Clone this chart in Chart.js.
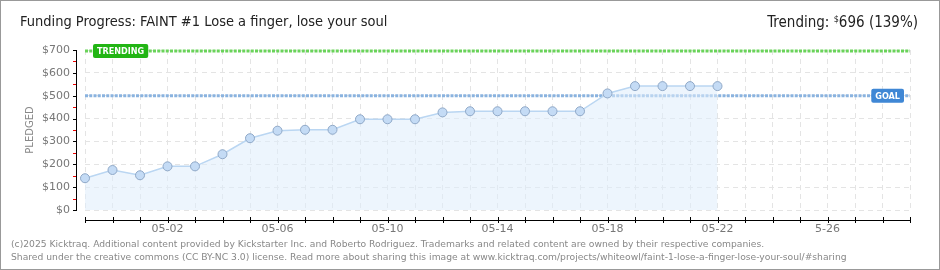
<!DOCTYPE html>
<html lang="en">
<head>
<meta charset="UTF-8">
<title>Funding Progress</title>
<script src="https://cdn.jsdelivr.net/npm/chart.js@4.4.1/dist/chart.umd.min.js"></script>
<style>
  body { margin: 0; background: #fff; }
  #wrap { position: relative; width: 940px; height: 270px; overflow: hidden; }
  #chart { position: absolute; left: 0; top: 0; }
  #frame { position: absolute; left: 0; top: 0; width: 940px; height: 270px; box-sizing: border-box; border: 1px solid #999; pointer-events: none; }
  .head { position: absolute; top: 13px; font-family: "DejaVu Sans Condensed", sans-serif; font-size: 15px; color: #222; white-space: nowrap; }
  #title { left: 20px; font-size: 14.5px; }
  #trend { right: 22px; }
  #trend sup { font-size: 9px; vertical-align: 5px; }
  #foot { position: absolute; left: 11px; top: 237px; font-family: "DejaVu Sans", sans-serif; font-size: 9.2px; line-height: 13px; color: #888; white-space: nowrap; }
</style>
</head>
<body>
<div id="wrap">
  <canvas id="chart" width="940" height="270"></canvas>
  <div class="head" id="title">Funding Progress: FAINT #1 Lose a finger, lose your soul</div>
  <div class="head" id="trend">Trending: <sup>$</sup>696 (139%)</div>
  <div id="foot">(c)2025 Kicktraq. Additional content provided by Kickstarter Inc. and Roberto Rodriguez. Trademarks and related content are owned by their respective companies.<br>Shared under the creative commons (CC BY-NC 3.0) license. Read more about sharing this image at www.kicktraq.com/projects/whiteowl/faint-1-lose-a-finger-lose-your-soul/#sharing</div>
  <div id="frame"></div>
</div>
<script>
  // one label per day, 04-29 .. 05-29
  const days = ['04-29', '04-30', '05-01', '05-02', '05-03', '05-04', '05-05', '05-06', '05-07', '05-08',
    '05-09', '05-10', '05-11', '05-12', '05-13', '05-14', '05-15', '05-16', '05-17', '05-18',
    '05-19', '05-20', '05-21', '05-22', '05-23', '05-24', '05-25', '05-26', '05-27', '05-28', '05-29']
  // tick labels as printed under the axis
  const shownTicks = { '05-02': '05-02', '05-06': '05-06', '05-10': '05-10', '05-14': '05-14',
    '05-18': '05-18', '05-22': '05-22', '05-26': '5-26' }
  const pledged = [139, 175, 152, 191, 191, 244, 314, 347, 351, 351, 397, 397, 397, 427, 432,
    432, 432, 432, 432, 510, 542, 542, 542, 542]
  const yTicks = [0, 100, 200, 300, 400, 500, 600, 700]
  const goal = 500
  const trending = 696

  const goalLine = days.map(() => goal)
  const trendLine = days.map(() => trending)

  const kicktraqAxes = {
    id: 'kicktraqAxes',
    afterDraw(chart) {
      const { ctx, chartArea: ca, scales: { x, y } } = chart
      ctx.save()
      // y axis, sits a little left of the plot
      const ax = Math.round(ca.left - 9)
      const top = Math.round(y.getPixelForValue(700))
      const bot = Math.round(y.getPixelForValue(0))
      ctx.fillStyle = '#000'
      ctx.fillRect(ax, top, 1, bot - top + 1)
      yTicks.forEach(v => {
        ctx.fillRect(ax - 3, Math.round(y.getPixelForValue(v)), 3, 1)
      })
      ctx.fillStyle = '#e00'
      yTicks.slice(0, -1).forEach(v => {
        ctx.fillRect(ax - 3, Math.round(y.getPixelForValue(v + 50)), 3, 1)
      })
      // x axis, sits a little below the plot
      const ay = Math.round(ca.bottom + 10)
      const x0 = Math.round(x.getPixelForValue(0))
      const x1 = Math.round(x.getPixelForValue(days.length - 1))
      ctx.fillStyle = '#000'
      ctx.fillRect(x0, ay, x1 - x0 + 1, 1)
      days.forEach((d, i) => {
        ctx.fillRect(Math.round(x.getPixelForValue(i)), ay - 3, 1, 6)
      })

      // flags
      const tag = (text, color, py, left, right) => {
        ctx.font = 'bold 9px "DejaVu Sans Condensed", sans-serif'
        const w = ctx.measureText(text).width + 8
        const bx = left !== undefined ? left : right - w
        ctx.fillStyle = color
        ctx.beginPath()
        ctx.roundRect(bx, py - 7, w, 14, 2)
        ctx.fill()
        ctx.fillStyle = '#fff'
        ctx.textBaseline = 'middle'
        ctx.textAlign = 'center'
        ctx.fillText(text, bx + w / 2, py + 0.5)
      }
      tag('TRENDING', '#22b514', y.getPixelForValue(trending), ca.left + 8)
      tag('GOAL', '#3f87d5', y.getPixelForValue(goal), undefined, ca.right - 6)
      ctx.restore()
    }
  }

  new Chart(document.getElementById('chart'), {
    type: 'line',
    data: {
      labels: days,
      datasets: [
        {
          label: 'Pledged',
          data: pledged,
          borderColor: '#bad6f2',
          borderWidth: 1.5,
          backgroundColor: 'rgba(222, 236, 251, 0.55)',
          fill: 'origin',
          tension: 0,
          pointRadius: 4.5,
          pointBackgroundColor: '#c4dbf5',
          pointBorderColor: '#8fa8c7',
          pointBorderWidth: 1
        },
        {
          label: 'Goal',
          data: goalLine,
          borderColor: '#8ab3df',
          borderWidth: 3,
          borderDash: [3, 1.25],
          borderCapStyle: 'butt',
          pointRadius: 0,
          fill: false
        },
        {
          label: 'Trending',
          data: trendLine,
          borderColor: '#6ad35a',
          borderWidth: 3,
          borderDash: [3, 1.25],
          borderCapStyle: 'butt',
          pointRadius: 0,
          fill: false,
          clip: false
        }
      ]
    },
    options: {
      responsive: false,
      animation: false,
      layout: { padding: { left: 0, right: 30, top: 50, bottom: 0 } },
      plugins: { legend: { display: false }, tooltip: { enabled: false } },
      scales: {
        x: {
          offset: false,
          afterFit(scale) { scale.height = 60 },
          grid: { color: '#e4e4e4', drawTicks: false, offset: false },
          border: { display: false, dash: [5, 4] },
          ticks: {
            autoSkip: false,
            maxRotation: 0,
            padding: 13,
            color: '#777',
            font: { family: '"DejaVu Sans", sans-serif', size: 11 },
            callback(v) { return shownTicks[days[v]] || '' }
          }
        },
        y: {
          min: 0,
          max: 700,
          afterFit(scale) { scale.width = 85 },
          afterBuildTicks(scale) { scale.ticks = yTicks.map(v => ({ value: v })) },
          grid: { color: '#e4e4e4', drawTicks: false },
          border: { display: false, dash: [5, 4] },
          title: {
            display: true,
            text: 'PLEDGED',
            color: '#888',
            font: { family: '"DejaVu Sans", sans-serif', size: 10 },
            padding: { top: 24, bottom: 0 }
          },
          ticks: {
            padding: 15,
            color: '#777',
            font: { family: '"DejaVu Sans", sans-serif', size: 11 },
            callback(v) { return '$' + v }
          }
        }
      }
    },
    plugins: [kicktraqAxes]
  })
</script>
</body>
</html>
